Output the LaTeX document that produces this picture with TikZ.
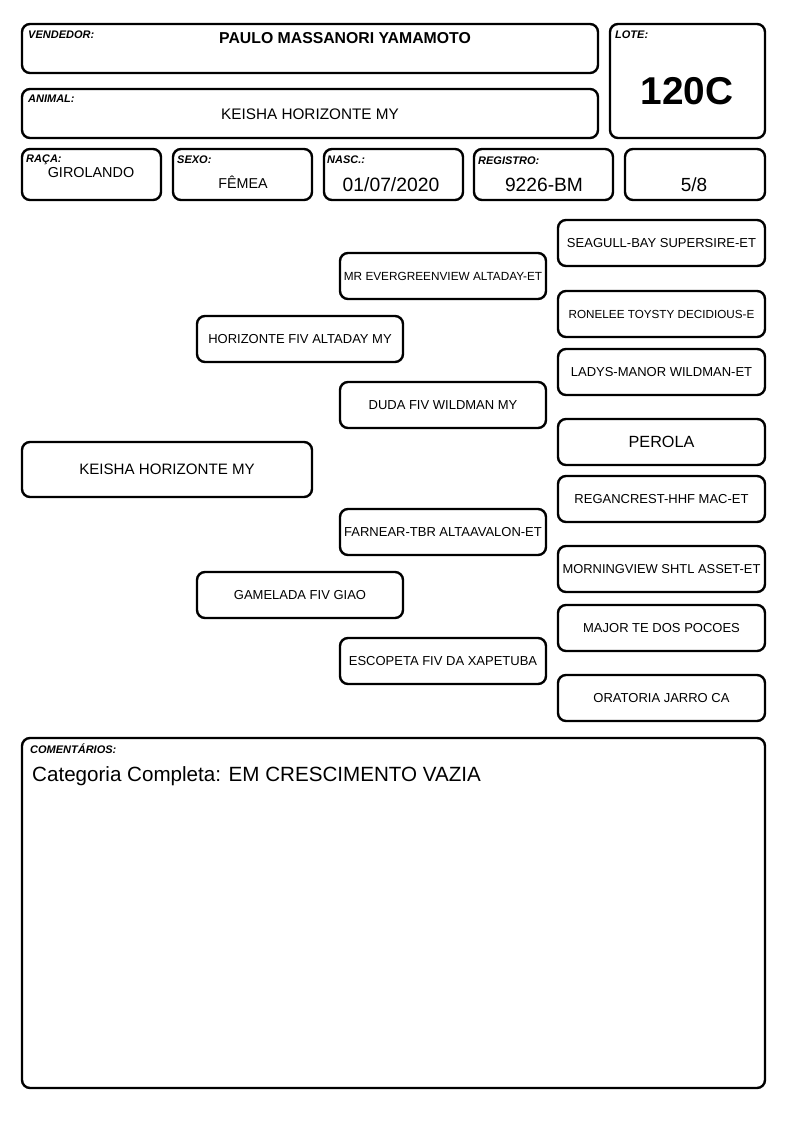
\documentclass[tikz,border=0pt]{standalone}
\usepackage{fontspec}
\setmainfont{Liberation Sans}
\begin{document}
\begin{tikzpicture}[x=1pt,y=-1pt,
  box/.style={draw, line width=2.4pt, rounded corners=8pt, inner sep=0pt, outer sep=0pt, anchor=north west},
  lbl/.style={anchor=base west, inner sep=0pt, font=\fontsize{11}{12}\selectfont\bfseries\itshape},
  val/.style={anchor=base, inner sep=0pt},
  ped/.style={box, minimum height=46pt, font=\fontsize{13}{15}\selectfont},
  c2/.style={ped, minimum width=206pt},
  c3/.style={ped, minimum width=207pt}]
\fill[white] (0,0) rectangle (794,1123);
\useasboundingbox (0,0) rectangle (794,1123);
% header boxes
\node[box, minimum width=576pt, minimum height=49pt] (vend) at (22,24) {};
\node[box, minimum width=576pt, minimum height=49pt] (anim) at (22,89) {};
\node[box, minimum width=155pt, minimum height=114pt] (lote) at (610,24) {};
\node[box, minimum width=139pt, minimum height=51pt] (raca) at (22,149) {};
\node[box, minimum width=139pt, minimum height=51pt] (sexo) at (173,149) {};
\node[box, minimum width=139pt, minimum height=51pt] (nasc) at (324,149) {};
\node[box, minimum width=139pt, minimum height=51pt] (regi) at (474,149) {};
\node[box, minimum width=140pt, minimum height=51pt] (frac) at (625,149) {};
% header labels
\node[lbl] (lvend) at (28,39) {VENDEDOR:};
\node[lbl] (lanim) at (28,102.5) {ANIMAL:};
\node[lbl] (llote) at (615,39) {LOTE:};
\node[lbl] (lraca) at (26,162.5) {RAÇA:};
\node[lbl] (lsexo) at (177,164) {SEXO:};
\node[lbl] (lnasc) at (327,164) {NASC.:};
\node[lbl] (lregi) at (478,165) {REGISTRO:};
% header values
\node[val, font=\fontsize{15.8}{17}\selectfont\bfseries] (tvend) at (345,43.3) {PAULO MASSANORI YAMAMOTO};
\node[val, font=\fontsize{15.3}{17}\selectfont] (tanim) at (310,119.3) {KEISHA HORIZONTE MY};
\node[val, font=\fontsize{38.8}{40}\selectfont\bfseries] (tlote) at (687,105) {120C};
\node[val, font=\fontsize{14.4}{16}\selectfont] (traca) at (91,177.7) {GIROLANDO};
\node[val, font=\fontsize{14.3}{16}\selectfont] (tsexo) at (243,189) {FÊMEA};
\node[val, font=\fontsize{19.3}{21}\selectfont] (tnasc) at (391,191.7) {01/07/2020};
\node[val, font=\fontsize{19.2}{21}\selectfont] (tregi) at (544,191.7) {9226-BM};
\node[val, font=\fontsize{19}{21}\selectfont] (tfrac) at (694,191.7) {5/8};
% pedigree
\node[box, minimum width=290pt, minimum height=55pt, font=\fontsize{15.1}{17}\selectfont] (keisha) at (22,442) {KEISHA HORIZONTE MY};
\node[c2] (horiz) at (197,316) {HORIZONTE FIV ALTADAY MY};
\node[c2] (gamel) at (197,572) {GAMELADA FIV GIAO};
\node[c2, font=\fontsize{11.8}{13}\selectfont] (everg) at (340,253) {MR EVERGREENVIEW ALTADAY-ET};
\node[c2] (duda) at (340,382) {DUDA FIV WILDMAN MY};
\node[c2] (farne) at (340,509) {FARNEAR-TBR ALTAAVALON-ET};
\node[c2] (escop) at (340,638) {ESCOPETA FIV DA XAPETUBA};
\node[c3] (seagu) at (558,220) {SEAGULL-BAY SUPERSIRE-ET};
\node[c3, font=\fontsize{11.7}{13}\selectfont] (ronel) at (558,291) {RONELEE TOYSTY DECIDIOUS-E};
\node[c3] (ladys) at (558,349) {LADYS-MANOR WILDMAN-ET};
\node[c3, font=\fontsize{16.2}{18}\selectfont] (perol) at (558,419) {PEROLA};
\node[c3] (regan) at (558,476) {REGANCREST-HHF MAC-ET};
\node[c3, font=\fontsize{12.9}{15}\selectfont] (morni) at (558,546) {MORNINGVIEW SHTL ASSET-ET};
\node[c3] (major) at (558,605) {MAJOR TE DOS POCOES};
\node[c3] (orato) at (558,675) {ORATORIA JARRO CA};
% comments
\node[box, minimum width=743pt, minimum height=350pt] (coment) at (22,738) {};
\node[lbl] (lcoment) at (30,753) {COMENTÁRIOS:};
\node[anchor=base west, inner sep=0pt, font=\fontsize{20.6}{22}\selectfont] (tcoment) at (32,781) {Categoria Completa: EM CRESCIMENTO VAZIA};
\end{tikzpicture}
\end{document}
